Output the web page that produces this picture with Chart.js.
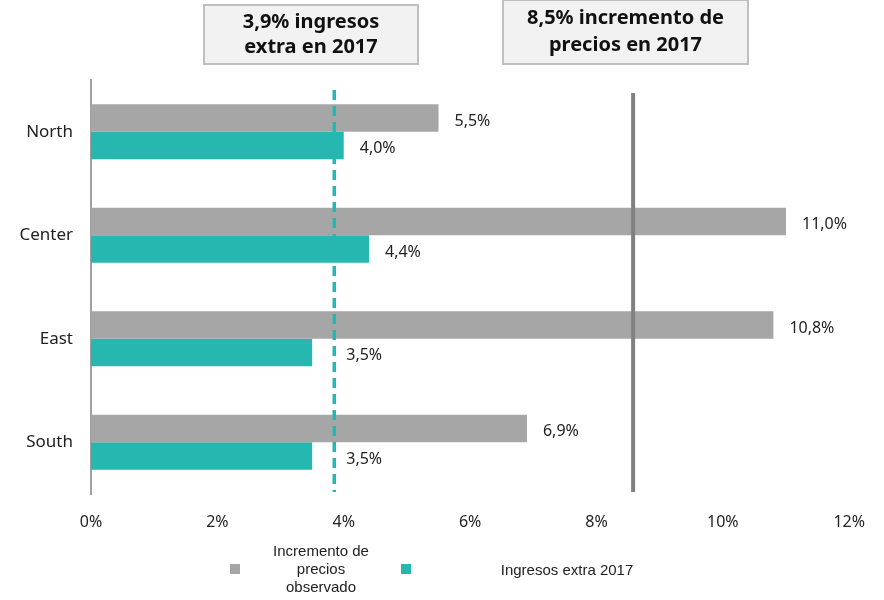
<!DOCTYPE html>
<html>
<head>
<meta charset="utf-8">
<script src="https://cdn.jsdelivr.net/npm/chart.js@4"></script>
<style>
  html, body { margin: 0; padding: 0; background: #fff; }
  #wrap { width: 884px; height: 600px; }
</style>
</head>
<body>
<div id="wrap"><canvas id="chart" width="884" height="600"></canvas></div>
<script>
// data
const regions = ["North", "Center", "East", "South"];
const priceIncrease = [5.5, 11.0, 10.8, 6.9];
const extraIncome = [4.0, 4.4, 3.5, 3.5];
const xTicks = [0, 2, 4, 6, 8, 10, 12];
const incomeLine = 3.85;   // dashed "3,9%" marker
const priceLine = 8.58;    // solid "8,5%" marker
const incomeBoxText = ["3,9% ingresos", "extra en 2017"];
const priceBoxText = ["8,5% incremento de", "precios en 2017"];
const seriesNames = [["Incremento de", "precios", "observado"], ["Ingresos extra 2017"]];

const GRAY = "#a6a6a6";
const TEAL = "#26b8b0";

function fmt(v) {
  return v.toFixed(1).replace(".", ",") + "%";
}

// reference lines, value labels, boxes and legend
const overlayPlugin = {
  id: "overlay",
  afterDatasetsDraw(chart) {
    const ctx = chart.ctx;
    const x = chart.scales.x;
    const area = chart.chartArea;

    // dashed income line
    const xi = x.getPixelForValue(incomeLine);
    ctx.save();
    ctx.strokeStyle = TEAL;
    ctx.lineWidth = 3.5;
    ctx.setLineDash([10, 6]);
    ctx.beginPath();
    ctx.moveTo(xi, area.top + 10);
    ctx.lineTo(xi, area.bottom - 2);
    ctx.stroke();

    // solid price line
    const xp = x.getPixelForValue(priceLine);
    ctx.setLineDash([]);
    ctx.strokeStyle = "#808080";
    ctx.lineWidth = 4;
    ctx.beginPath();
    ctx.moveTo(xp, area.top + 13);
    ctx.lineTo(xp, area.bottom - 2);
    ctx.stroke();

    // value labels
    ctx.font = "16px 'Noto Sans'";
    ctx.fillStyle = "#222";
    ctx.textBaseline = "middle";
    ctx.textAlign = "left";
    chart.data.datasets.forEach((ds, i) => {
      chart.getDatasetMeta(i).data.forEach((bar, j) => {
        const txt = fmt(ds.data[j]);
        const w = ctx.measureText(txt).width;
        let lx = bar.x + 16;
        if (lx < xi + 8 && lx + w > xi - 2) lx = xi + 12;
        ctx.fillText(txt, lx, bar.y + 3);
      });
    });

    // annotation boxes
    function box(x0, y0, w, h, lines, ys) {
      ctx.fillStyle = "#f2f2f2";
      ctx.fillRect(x0, y0, w, h);
      ctx.strokeStyle = "#bfbfbf";
      ctx.lineWidth = 2;
      ctx.strokeRect(x0, y0, w, h);
      ctx.fillStyle = "#111";
      ctx.font = "bold 20px 'Noto Sans'";
      ctx.textAlign = "center";
      lines.forEach((t, k) => ctx.fillText(t, x0 + w / 2, ys[k]));
    }
    box(204, 5, 214, 59, incomeBoxText, [22, 47]);
    box(503, 0, 245, 64, priceBoxText, [18, 45]);

    // legend
    ctx.font = "15px 'Liberation Sans'";
    ctx.textAlign = "center";
    ctx.fillStyle = GRAY;
    ctx.fillRect(230, 564, 10, 10);
    ctx.fillStyle = "#222";
    seriesNames[0].forEach((t, k) => ctx.fillText(t, 321, 552 + k * 18));
    ctx.fillStyle = TEAL;
    ctx.fillRect(401, 564, 10, 10);
    ctx.fillStyle = "#222";
    ctx.fillText(seriesNames[1][0], 567, 571);
    ctx.restore();
  }
};

new Chart(document.getElementById("chart").getContext("2d"), {
  type: "bar",
  data: {
    labels: regions,
    datasets: [
      { label: seriesNames[0].join(" "), data: priceIncrease, backgroundColor: GRAY },
      { label: seriesNames[1][0], data: extraIncome, backgroundColor: TEAL }
    ]
  },
  options: {
    indexAxis: "y",
    responsive: false,
    animation: false,
    categoryPercentage: 0.53,
    barPercentage: 1,
    layout: { padding: { left: 0, right: 31, top: 80, bottom: 0 } },
    plugins: {
      legend: { display: false },
      tooltip: { enabled: false }
    },
    scales: {
      x: {
        min: 0,
        max: 12,
        afterBuildTicks(axis) {
          axis.ticks = xTicks.map(v => ({ value: v }));
        },
        afterFit(axis) { axis.height = 106; },
        grid: { display: false, drawTicks: false },
        border: { display: false },
        ticks: {
          padding: 19,
          color: "#222",
          font: { family: "'Noto Sans'", size: 16 },
          callback: v => v + "%"
        }
      },
      y: {
        afterFit(axis) { axis.width = 91; },
        grid: { display: false, drawTicks: false },
        border: { display: true, color: "#a0a0a0", width: 2 },
        ticks: {
          padding: 18,
          color: "#222",
          font: { family: "'Noto Sans'", size: 17 }
        }
      }
    }
  },
  plugins: [overlayPlugin]
});
</script>
</body>
</html>
